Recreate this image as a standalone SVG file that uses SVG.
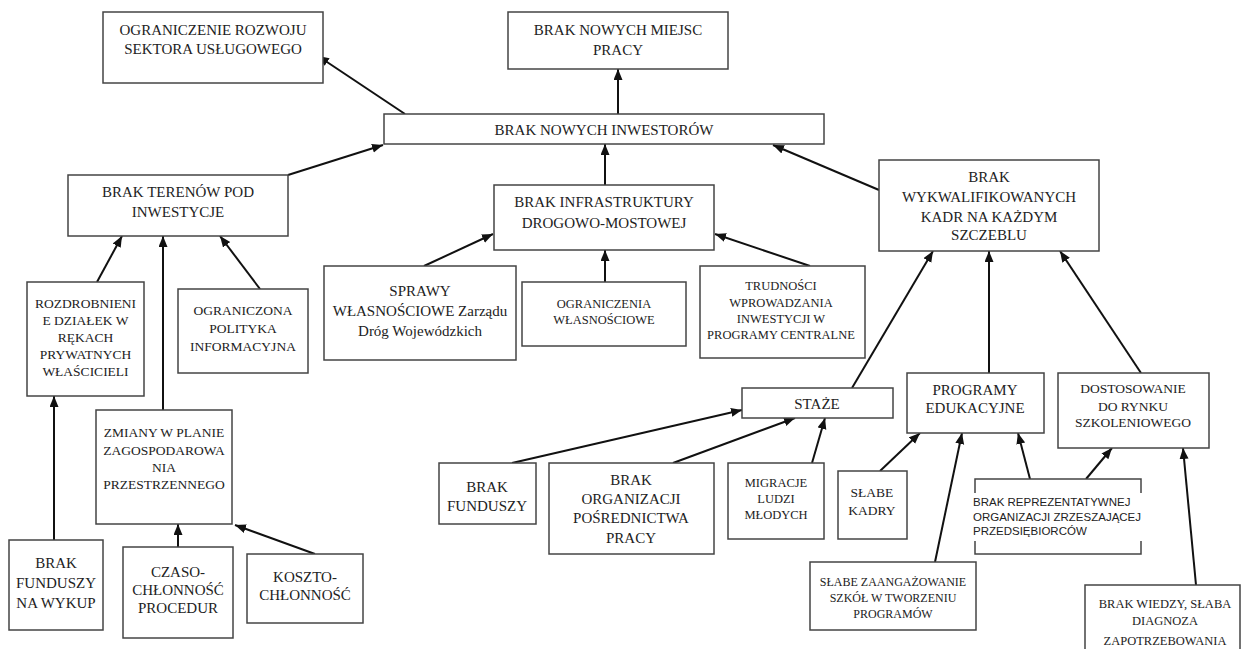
<svg xmlns="http://www.w3.org/2000/svg" width="1242" height="649" viewBox="0 0 1242 649">
<style>
.b{fill:#fff;stroke:#444;stroke-width:1.5}
.t{font-family:"Liberation Serif","Times New Roman",serif;font-size:15px;fill:#222;text-anchor:middle}
.s{font-size:13.5px}
.xs{font-size:12.5px}
.a{font-family:"Liberation Sans",Arial,sans-serif;font-size:11.5px;fill:#222}
.c line{stroke:#111;stroke-width:2;marker-end:url(#ah)}
</style>
<defs>
<marker id="ah" markerUnits="userSpaceOnUse" markerWidth="12" markerHeight="10" refX="11" refY="4.5" orient="auto">
<path d="M0,0 L11,4.5 L0,9 z" fill="#111"/>
</marker>
</defs>
<rect width="1242" height="649" fill="#fff"/>
<g class="c">
<line x1="405" y1="114" x2="318" y2="56"/>
<line x1="618" y1="114" x2="618" y2="69"/>
<line x1="288" y1="175" x2="383" y2="145"/>
<line x1="605" y1="185" x2="605" y2="144"/>
<line x1="879" y1="190" x2="773" y2="145"/>
<line x1="97" y1="282" x2="122" y2="236"/>
<line x1="163" y1="410" x2="163" y2="236"/>
<line x1="260" y1="289" x2="220" y2="236"/>
<line x1="54" y1="540" x2="54" y2="396"/>
<line x1="178" y1="547" x2="178" y2="524"/>
<line x1="315" y1="554" x2="235" y2="525"/>
<line x1="424" y1="266" x2="493" y2="234"/>
<line x1="605" y1="282" x2="605" y2="250"/>
<line x1="810" y1="266" x2="715" y2="234"/>
<line x1="852" y1="388" x2="933" y2="251"/>
<line x1="989" y1="373" x2="989" y2="251"/>
<line x1="1141" y1="373" x2="1060" y2="251"/>
<line x1="512" y1="463" x2="742" y2="410"/>
<line x1="673" y1="463" x2="795" y2="418"/>
<line x1="812" y1="463" x2="825" y2="418"/>
<line x1="880" y1="471" x2="920" y2="433"/>
<line x1="935" y1="562" x2="962" y2="433"/>
<line x1="1030" y1="479" x2="1018" y2="433"/>
<line x1="1086" y1="479" x2="1112" y2="448"/>
<line x1="1196" y1="585" x2="1183" y2="448"/>
</g>
<g id="n1"><rect class="b" x="103" y="12" width="220" height="71"/><text class="t" x="213" y="35">OGRANICZENIE ROZWOJU</text><text class="t" x="213" y="54">SEKTORA USŁUGOWEGO</text></g>
<g id="n2"><rect class="b" x="508" y="12" width="220" height="57"/><text class="t" x="618" y="35">BRAK NOWYCH MIEJSC</text><text class="t" x="618" y="55">PRACY</text></g>
<g id="n3"><rect class="b" x="384" y="114" width="440" height="30"/><text class="t" x="604" y="135">BRAK NOWYCH INWESTORÓW</text></g>
<g id="n4"><rect class="b" x="68" y="175" width="220" height="61"/><text class="t" x="178" y="197">BRAK TERENÓW POD</text><text class="t" x="178" y="217">INWESTYCJE</text></g>
<g id="n5"><rect class="b" x="494" y="185" width="220" height="65"/><text class="t" x="604" y="207">BRAK INFRASTRUKTURY</text><text class="t" x="604" y="228">DROGOWO-MOSTOWEJ</text></g>
<g id="n6"><rect class="b" x="879" y="160" width="220" height="91"/><text class="t" x="989" y="182">BRAK</text><text class="t" x="989" y="202">WYKWALIFIKOWANYCH</text><text class="t" x="989" y="222">KADR NA KAŻDYM</text><text class="t" x="989" y="240">SZCZEBLU</text></g>
<g id="n7"><rect class="b" x="27" y="282" width="117" height="114"/><text class="t s" x="85.5" y="308">ROZDROBNIENI</text><text class="t s" x="85.5" y="325">E DZIAŁEK W</text><text class="t s" x="85.5" y="342">RĘKACH</text><text class="t s" x="85.5" y="359">PRYWATNYCH</text><text class="t s" x="85.5" y="376">WŁAŚCICIELI</text></g>
<g id="n8"><rect class="b" x="178" y="289" width="130" height="84"/><text class="t s" x="243" y="315">OGRANICZONA</text><text class="t s" x="243" y="333">POLITYKA</text><text class="t s" x="243" y="351">INFORMACYJNA</text></g>
<g id="n9"><rect class="b" x="96" y="410" width="136" height="114"/><text class="t s" x="164" y="437">ZMIANY W PLANIE</text><text class="t s" x="164" y="455">ZAGOSPODAROWA</text><text class="t s" x="164" y="472">NIA</text><text class="t s" x="164" y="489">PRZESTRZENNEGO</text></g>
<g id="n10"><rect class="b" x="9" y="540" width="94" height="90"/><text class="t" x="56" y="568">BRAK</text><text class="t" x="56" y="588">FUNDUSZY</text><text class="t" x="56" y="608">NA WYKUP</text></g>
<g id="n11"><rect class="b" x="123" y="547" width="110" height="91"/><text class="t" x="178" y="577">CZASO-</text><text class="t" x="178" y="595">CHŁONNOŚĆ</text><text class="t" x="178" y="613">PROCEDUR</text></g>
<g id="n12"><rect class="b" x="247" y="554" width="116" height="69"/><text class="t" x="305" y="582">KOSZTO-</text><text class="t" x="305" y="600">CHŁONNOŚĆ</text></g>
<g id="n13"><rect class="b" x="324" y="266" width="192" height="94"/><text class="t" x="420" y="296">SPRAWY</text><text class="t" x="420" y="316">WŁASNOŚCIOWE Zarządu</text><text class="t" x="420" y="336">Dróg Wojewódzkich</text></g>
<g id="n14"><rect class="b" x="522" y="282" width="164" height="64"/><text class="t xs" x="604" y="308">OGRANICZENIA</text><text class="t xs" x="604" y="324">WŁASNOŚCIOWE</text></g>
<g id="n15"><rect class="b" x="700" y="266" width="165" height="92"/><text class="t xs" x="781" y="290">TRUDNOŚCI</text><text class="t xs" x="781" y="307">WPROWADZANIA</text><text class="t xs" x="781" y="323">INWESTYCJI W</text><text class="t xs" x="781" y="339">PROGRAMY CENTRALNE</text></g>
<g id="n16"><rect class="b" x="742" y="388" width="151" height="30"/><text class="t" x="817" y="409">STAŻE</text></g>
<g id="n17"><rect class="b" x="439" y="463" width="97" height="61"/><text class="t" x="487" y="492">BRAK</text><text class="t" x="487" y="511">FUNDUSZY</text></g>
<g id="n18"><rect class="b" x="549" y="463" width="165" height="91"/><text class="t" x="631" y="485">BRAK</text><text class="t" x="631" y="504">ORGANIZACJI</text><text class="t" x="631" y="523">POŚREDNICTWA</text><text class="t" x="631" y="543">PRACY</text></g>
<g id="n19"><rect class="b" x="728" y="463" width="96" height="76"/><text class="t xs" x="776" y="487">MIGRACJE</text><text class="t xs" x="776" y="503">LUDZI</text><text class="t xs" x="776" y="519">MŁODYCH</text></g>
<g id="n20"><rect class="b" x="838" y="471" width="69" height="68"/><text class="t s" x="872" y="497">SŁABE</text><text class="t s" x="872" y="515">KADRY</text></g>
<g id="n21"><rect class="b" x="907" y="373" width="137" height="60"/><text class="t" x="975" y="395">PROGRAMY</text><text class="t" x="975" y="413">EDUKACYJNE</text></g>
<g id="n22"><rect class="b" x="1058" y="373" width="151" height="75"/><text class="t s" x="1133" y="393">DOSTOSOWANIE</text><text class="t s" x="1133" y="411">DO RYNKU</text><text class="t s" x="1133" y="427">SZKOLENIOWEGO</text></g>
<g id="n23"><rect class="b" x="975" y="479" width="166" height="75"/><rect x="970" y="493" width="176" height="48" fill="#fff"/><text class="a" x="973" y="506">BRAK REPREZENTATYWNEJ</text><text class="a" x="973" y="521">ORGANIZACJI ZRZESZAJĄCEJ</text><text class="a" x="973" y="535">PRZEDSIĘBIORCÓW</text></g>
<g id="n24"><rect class="b" x="810" y="562" width="166" height="68"/><text class="t" style="font-size:12px" x="893" y="586">SŁABE ZAANGAŻOWANIE</text><text class="t" style="font-size:12px" x="893" y="602">SZKÓŁ W TWORZENIU</text><text class="t" style="font-size:12px" x="893" y="618">PROGRAMÓW</text></g>
<g id="n25"><rect class="b" x="1085" y="585" width="155" height="80"/><text class="t xs" x="1165" y="608">BRAK WIEDZY, SŁABA</text><text class="t xs" x="1165" y="625">DIAGNOZA</text><text class="t xs" x="1165" y="645">ZAPOTRZEBOWANIA</text></g>
</svg>
